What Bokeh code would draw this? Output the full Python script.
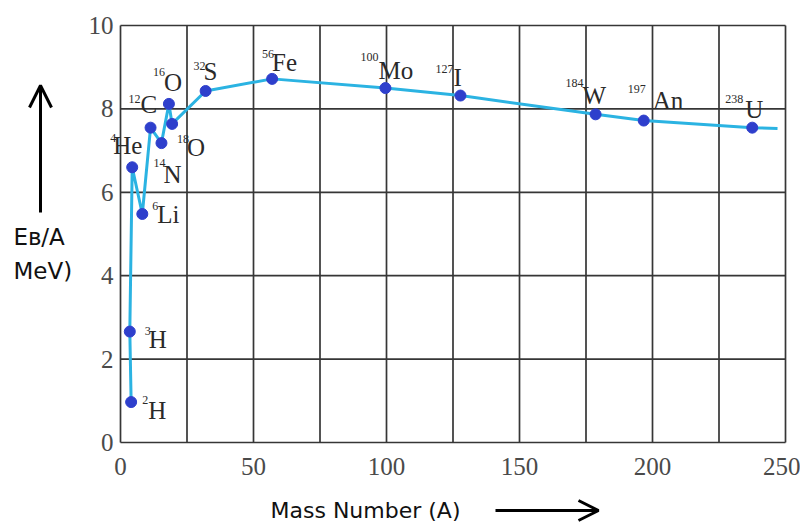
from bokeh.plotting import figure
from bokeh.models import Range1d, FixedTicker, Label, Arrow, OpenHead, ColumnDataSource
from bokeh.core.properties import value
from bokeh.embed import file_html
from bokeh.resources import INLINE

# ---- data ----
mass_number = [4.0, 3.5, 4.4, 8.2, 11.3, 15.4, 18.2, 19.4, 32.0, 57.0, 99.6,
               127.8, 178.6, 196.7, 237.5]
binding_per_nucleon = [0.97, 2.66, 6.60, 5.48, 7.55, 7.18, 8.12, 7.64, 8.43,
                       8.72, 8.50, 8.32, 7.87, 7.72, 7.55]
isotope_mass = ["2", "3", "4", "6", "12", "14", "16", "18", "32", "56", "100",
                "127", "184", "197", "238"]
isotope_symbol = ["H", "H", "He", "Li", "C", "N", "O", "O", "S", "Fe", "Mo",
                  "I", "W", "An", "U"]
# the curve continues a little past the last marked nucleus
curve_x = mass_number + [247.0]
curve_y = binding_per_nucleon + [7.53]

x_grid_ticks = list(range(0, 251, 25))
x_label_ticks = [0, 50, 100, 150, 200, 250]
y_ticks = [0, 2, 4, 6, 8, 10]

# ---- layout (pixels) ----
W, H = 800, 524
ORIGIN_X, ORIGIN_Y = 120, 442          # pixel position of (0, 0)
PX_PER_X, PX_PER_Y = 2.66, 41.7


def px_x(px):
    return (px - ORIGIN_X) / PX_PER_X


def px_y(py):
    return (ORIGIN_Y - py) / PX_PER_Y


# label placement: pixel offsets from each point (layout only)
sym_dx = [17, 19, -19, 15, -10, 2, -5, 15, -2, 0, -7, -7, -13, 9, -7]
sym_dy = [8, 8, -22, 1, -23, 31, -21, 24, -19, -16, -18, -18, -19, -20, -18]
sup_dx = [11, 15, -22, 10, -22, -8, -16, 5, -12, -10, -25, -25, -30, -16, -27]
sup_dy = [-2, -1, -29, -8, -29, 20, -32, 15, -25, -25, -31, -27, -31, -32, -29]

src = ColumnDataSource(dict(x=mass_number, y=binding_per_nucleon,
                            sym=isotope_symbol, sup=isotope_mass,
                            sdx=sym_dx, sdy=sym_dy, udx=sup_dx, udy=sup_dy))

p = figure(width=W, height=H, frame_width=W, frame_height=H,
           x_range=Range1d(px_x(0), px_x(W)), y_range=Range1d(px_y(H), px_y(0)),
           output_backend="svg", toolbar_location=None,
           min_border=0)

p.background_fill_color = "white"
p.border_fill_color = "white"
p.outline_line_color = None
p.xgrid.visible = False
p.ygrid.visible = False

# grid drawn only over the chart area
n_v = len(x_grid_ticks)
n_h = len(y_ticks)
p.segment(x0=x_grid_ticks, y0=[y_ticks[0]] * n_v, x1=x_grid_ticks,
          y1=[y_ticks[-1]] * n_v, line_color="#363636", line_width=1.7)
p.segment(x0=[x_grid_ticks[0]] * n_h, y0=y_ticks, x1=[x_grid_ticks[-1]] * n_h,
          y1=y_ticks, line_color="#363636", line_width=1.7)

p.xaxis.ticker = FixedTicker(ticks=x_label_ticks)
p.yaxis.ticker = FixedTicker(ticks=y_ticks)
p.xaxis.fixed_location = 0
p.yaxis.fixed_location = 0
for ax in (p.xaxis, p.yaxis):
    ax.axis_line_color = None
    ax.major_tick_line_color = None
    ax.minor_tick_line_color = None
    ax.major_tick_out = 0
    ax.major_tick_in = 0
    ax.major_label_text_font = "Liberation Serif"
    ax.major_label_text_font_size = "25px"
    ax.major_label_text_color = "#4a4a4a"
p.xaxis.major_label_standoff = 15
p.yaxis.major_label_standoff = 7

p.line(curve_x, curve_y, line_color="#2bb3e2", line_width=3)
p.scatter("x", "y", source=src, size=11, fill_color="#2e3fcc",
          line_color="#2e3fcc")

p.text("x", "y", text="sym", source=src, x_offset="sdx", y_offset="sdy",
       text_font=value("Liberation Serif"), text_font_size="25px",
       text_color="#2a2a2a", text_align="left", text_baseline="alphabetic")
p.text("x", "y", text="sup", source=src, x_offset="udx", y_offset="udy",
       text_font=value("Liberation Serif"), text_font_size="12px",
       text_color="#2a2a2a", text_align="left", text_baseline="alphabetic")

# axis titles and arrows
p.add_layout(Label(x=px_x(13), y=px_y(236), text="E\u0299/A",
                   text_font="DejaVu Sans", text_font_size="23px",
                   text_color="#111111", text_baseline="alphabetic"))
p.add_layout(Label(x=px_x(13), y=px_y(270), text="MeV)",
                   text_font="DejaVu Sans", text_font_size="23px",
                   text_color="#111111", text_baseline="alphabetic"))
p.add_layout(Arrow(x_start=px_x(40), y_start=px_y(212), x_end=px_x(40),
                   y_end=px_y(85), line_color="black", line_width=3,
                   end=OpenHead(size=22, line_width=3, line_color="black")))
p.add_layout(Label(x=px_x(270), y=px_y(510), text="Mass Number (A)",
                   text_font="DejaVu Sans", text_font_size="22px",
                   text_color="#111111", text_baseline="alphabetic"))
p.add_layout(Arrow(x_start=px_x(495), y_start=px_y(510), x_end=px_x(598),
                   y_end=px_y(510), line_color="black", line_width=3,
                   end=OpenHead(size=20, line_width=3, line_color="black")))

open("out.html", "w").write(file_html(p, INLINE))
